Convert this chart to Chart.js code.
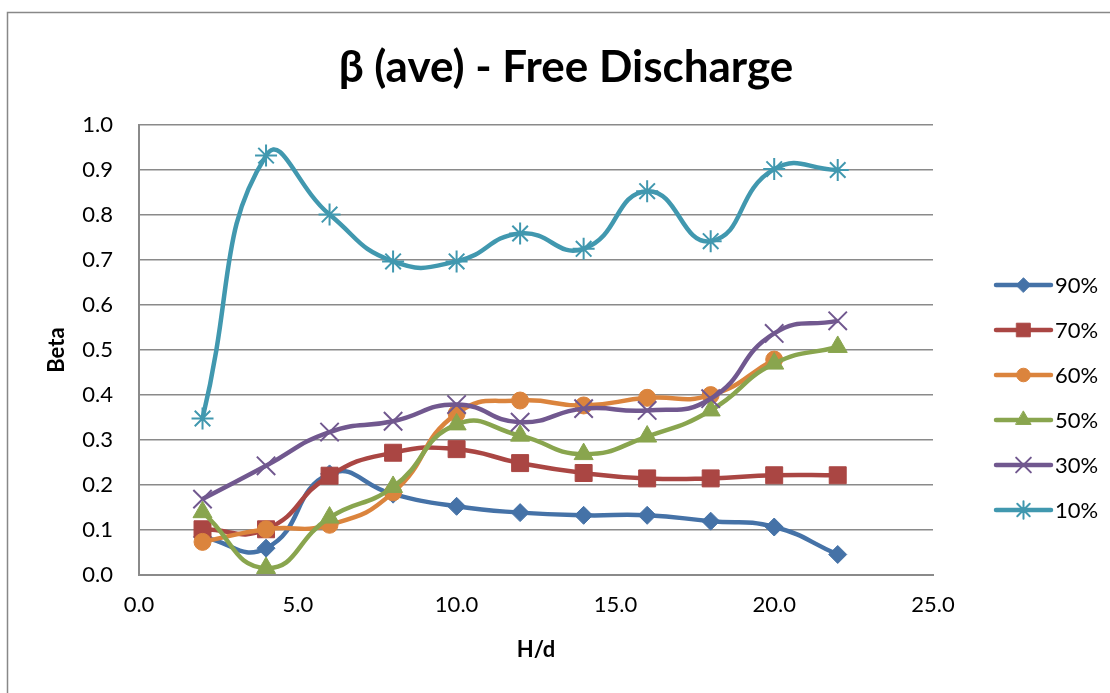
<!DOCTYPE html>
<html>
<head>
<meta charset="utf-8">
<script src="https://cdn.jsdelivr.net/npm/chart.js@4/dist/chart.umd.min.js"></script>
<style>
  html, body { margin: 0; padding: 0; background: #fff; }
  #wrap { position: relative; width: 1110px; height: 693px; }
</style>
</head>
<body>
<div id="wrap"><canvas id="betaChart" width="1110" height="693"></canvas></div>
<script>
// H/d values (x axis)
const hd = [2, 4, 6, 8, 10, 12, 14, 16, 18, 20, 22];

// Beta values, one array per opening
const beta90 = [0.085, 0.060, 0.225, 0.180, 0.153, 0.139, 0.133, 0.133, 0.120, 0.107, 0.046];
const beta70 = [0.102, 0.102, 0.221, 0.272, 0.280, 0.249, 0.227, 0.215, 0.215, 0.222, 0.222];
const beta60 = [0.074, 0.102, 0.112, 0.184, 0.359, 0.388, 0.377, 0.394, 0.400, 0.479];
const beta50 = [0.140, 0.016, 0.128, 0.196, 0.335, 0.310, 0.269, 0.308, 0.366, 0.470, 0.507];
const beta30 = [0.169, 0.243, 0.318, 0.342, 0.379, 0.340, 0.370, 0.366, 0.392, 0.537, 0.565];
const beta10 = [0.348, 0.932, 0.801, 0.697, 0.697, 0.759, 0.725, 0.853, 0.742, 0.902, 0.900];

const seriesLabels = ['90%', '70%', '60%', '50%', '30%', '10%'];
const seriesValues = [beta90, beta70, beta60, beta50, beta30, beta10];

const xTicks = [0, 5, 10, 15, 20, 25];
const yTicks = [0, 0.1, 0.2, 0.3, 0.4, 0.5, 0.6, 0.7, 0.8, 0.9, 1.0];

const chartTitle = 'β (ave) - Free Discharge';

const colors = ['#4572A7', '#AA4643', '#DB843D', '#89A54E', '#71588F', '#4198AF'];
const markers = [
  { style: 'rectRot', r: 9, bw: 1 },
  { style: 'rect', r: 12, bw: 1 },
  { style: 'circle', r: 8.5, bw: 1 },
  { style: 'triangle', r: 11, bw: 1 },
  { style: 'crossRot', r: 13, bw: 2 },
  { style: 'star', r: 11, bw: 2 }
];

const FONT = 'Lato, "Open Sans", sans-serif';
const GRID = '#8a8a8a';

function toPoints(values) {
  return values.map((v, i) => ({ x: hd[i], y: v }));
}

const datasets = seriesValues.map((vals, i) => ({
  label: seriesLabels[i],
  data: toPoints(vals),
  order: seriesValues.length - i,   // later series on top, like Excel
  borderColor: colors[i],
  backgroundColor: colors[i],
  borderWidth: 4.5,
  tension: 0.5,
  pointStyle: markers[i].style,
  pointRadius: markers[i].r,
  pointBorderWidth: markers[i].bw,
  pointBackgroundColor: colors[i],
  pointBorderColor: colors[i],
  clip: false
}));

// chart area border + title centred on the whole frame
const framePlugin = {
  id: 'frame',
  beforeDraw(chart) {
    const ctx = chart.ctx;
    ctx.save();
    ctx.strokeStyle = '#888888';
    ctx.lineWidth = 1.5;
    ctx.strokeRect(7.5, 12.5, 1200, 800);
    ctx.fillStyle = '#000';
    ctx.font = 'bold 44px ' + FONT;
    ctx.textAlign = 'center';
    ctx.textBaseline = 'middle';
    ctx.fillText(chartTitle, 566, 68);
    ctx.restore();
  }
};

// legend with line + marker sample on the right
const sideLegend = {
  id: 'sideLegend',
  afterDraw(chart) {
    const ctx = chart.ctx;
    const x0 = 996, x1 = 1051, top = 285, step = 45;
    chart.data.datasets.forEach((ds, i) => {
      const y = top + i * step;
      ctx.save();
      ctx.strokeStyle = ds.borderColor;
      ctx.lineWidth = 4.5;
      ctx.lineCap = 'round';
      ctx.beginPath();
      ctx.moveTo(x0, y);
      ctx.lineTo(x1, y);
      ctx.stroke();
      ctx.fillStyle = ds.borderColor;
      ctx.strokeStyle = ds.borderColor;
      ctx.lineWidth = ds.pointBorderWidth;
      Chart.helpers.drawPoint(ctx, {
        pointStyle: ds.pointStyle,
        radius: ds.pointRadius * 0.8,
        borderWidth: ds.pointBorderWidth,
        rotation: 0
      }, (x0 + x1) / 2, y);
      ctx.fillStyle = '#000';
      ctx.font = '22px ' + FONT;
      ctx.textBaseline = 'middle';
      ctx.textAlign = 'left';
      ctx.fillText(ds.label, x1 + 4, y + 1);
      ctx.restore();
    });
  }
};

const ctx = document.getElementById('betaChart').getContext('2d');
new Chart(ctx, {
  type: 'line',
  data: { datasets: datasets },
  plugins: [framePlugin, sideLegend],
  options: {
    responsive: false,
    animation: false,
    layout: { padding: { left: 0, right: 177, top: 125, bottom: 30 } },
    plugins: {
      legend: { display: false },
      tooltip: { enabled: false },
      title: { display: false }
    },
    scales: {
      x: {
        type: 'linear',
        min: 0,
        max: 25,
        afterBuildTicks: (scale) => { scale.ticks = xTicks.map(v => ({ value: v })); },
        ticks: {
          color: '#000',
          font: { family: FONT, size: 22 },
          padding: 17,
          maxRotation: 0,
          callback: (v) => v.toFixed(1)
        },
        grid: { display: false, drawTicks: false },
        border: { display: true, color: GRID, width: 2 },
        title: {
          display: true,
          text: 'H/d',
          color: '#000',
          font: { family: FONT, size: 22, weight: 'bold' },
          padding: { top: 1, bottom: 0 }
        }
      },
      y: {
        min: 0,
        max: 1,
        afterBuildTicks: (scale) => { scale.ticks = yTicks.map(v => ({ value: v })); },
        afterFit: (scale) => { scale.width = 139; },
        ticks: {
          color: '#000',
          font: { family: FONT, size: 22 },
          padding: 26,
          callback: (v) => v.toFixed(1)
        },
        grid: { color: GRID, lineWidth: 1.5, drawTicks: false },
        border: { display: true, color: GRID, width: 2 },
        title: {
          display: true,
          text: 'Beta',
          color: '#000',
          font: { family: FONT, size: 22, weight: 'bold' },
          padding: { top: 44, bottom: 0 }
        }
      }
    }
  }
});
</script>
</body>
</html>
